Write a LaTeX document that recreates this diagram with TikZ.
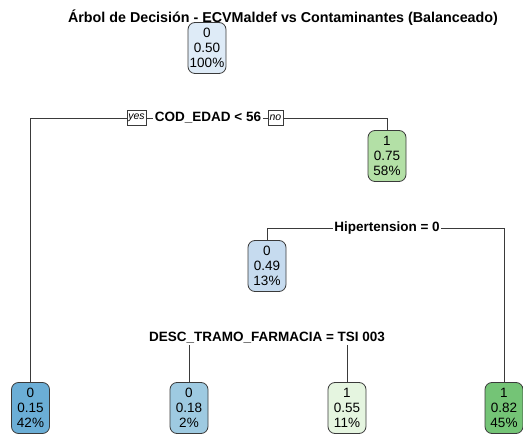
\documentclass[tikz,border=0pt]{standalone}
\usepackage{fontspec}
\setmainfont{Liberation Sans}
\usepackage{tikz}

\definecolor{blueA}{HTML}{DEEBF7}
\definecolor{blueB}{HTML}{C6DBEF}
\definecolor{blueC}{HTML}{9ECAE1}
\definecolor{blueD}{HTML}{6BAED6}
\definecolor{greenA}{HTML}{E5F5E0}
\definecolor{greenB}{HTML}{B3E0A6}
\definecolor{greenC}{HTML}{74C476}
\definecolor{edge}{HTML}{3A3A3A}

\tikzset{
  leaf/.style={draw=edge, line width=0.8pt, rounded corners=7pt,
    minimum width=38pt, minimum height=51pt, inner sep=1.5pt, align=center,
    font=\fontsize{13.5}{15}\selectfont},
  split/.style={inner sep=1.5pt, font=\bfseries\fontsize{13.5}{15}\selectfont},
  yesno/.style={draw=edge, line width=0.6pt, inner sep=1.5pt, minimum height=15pt,
    font=\itshape\fontsize{10.5}{11}\selectfont},
  branch/.style={draw=edge, line width=0.9pt}
}

\begin{document}
\begin{tikzpicture}[x=1pt,y=-1pt]
      \useasboundingbox (0,0) rectangle (523,435);

      \node[font=\bfseries\fontsize{14.3}{16}\selectfont] (title) at (283,18)
      {Árbol de Decisión - ECVMaldef vs Contaminantes (Balanceado)};

      % root and first split
      \node[leaf, fill=blueA] (root) at (207,48) {0\\0.50\\100\%};

      \node[split] (edad) at (208,118) {COD\_EDAD < 56};
      \node[yesno] (yes) at (136.5,118) {yes};
      \node[yesno] (no) at (275.5,118) {no};

      \node[leaf, fill=greenB] (n58) at (387,156) {1\\0.75\\58\%};

      % second split
      \node[split] (hiper) at (387,228) {Hipertension = 0};
      \node[leaf, fill=blueB] (n13) at (267,266) {0\\0.49\\13\%};

      % third split
      \node[split] (farm) at (267,338) {DESC\_TRAMO\_FARMACIA = TSI 003};

      % leaves
      \node[leaf, fill=blueD] (n42) at (30.5,408) {0\\0.15\\42\%};
      \node[leaf, fill=blueC] (n2) at (189,408) {0\\0.18\\2\%};
      \node[leaf, fill=greenA] (n11) at (347,408) {1\\0.55\\11\%};
      \node[leaf, fill=greenC] (n45) at (504,408) {1\\0.82\\45\%};

      \draw[branch] (yes.west) -| (n42.north);
      \draw[branch] (yes.east) -- (edad.west);
      \draw[branch] (edad.east) -- (no.west);
      \draw[branch] (no.east) -| (n58.north);

      \draw[branch] (n13.north) |- (hiper.west);
      \draw[branch] (hiper.east) -| (n45.north);

      \draw[branch] (n2.north |- farm.south) -- (n2.north);
      \draw[branch] (n11.north |- farm.south) -- (n11.north);
\end{tikzpicture}
\end{document}
